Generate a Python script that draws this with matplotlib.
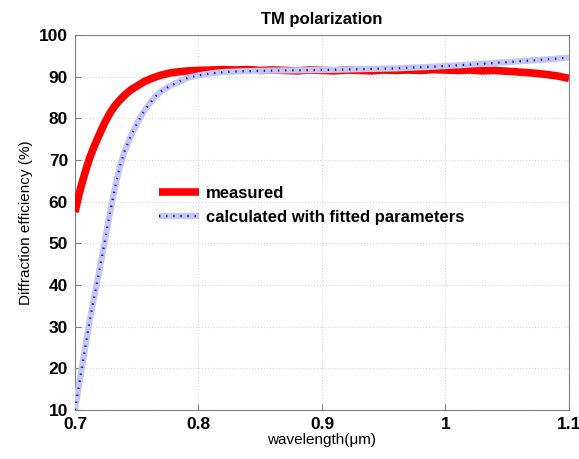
import matplotlib
matplotlib.use("Agg")
import matplotlib.pyplot as plt

plt.rcParams['font.family'] = ['Liberation Sans', 'DejaVu Sans']

# measured curve
meas_x = [0.700, 0.703, 0.706, 0.709, 0.712, 0.716, 0.720, 0.724, 0.728, 0.732,
          0.736, 0.740, 0.745, 0.750, 0.756, 0.763, 0.770, 0.777, 0.785, 0.792,
          0.800, 0.810, 0.820, 0.830, 0.840, 0.850, 0.860, 0.870, 0.880, 0.890,
          0.900, 0.910, 0.920, 0.930, 0.940, 0.950, 0.960, 0.970, 0.980, 0.990,
          1.000, 1.010, 1.020, 1.030, 1.040, 1.050, 1.060, 1.070, 1.080, 1.090, 1.100]
meas_y = [57.5, 61.5, 64.8, 67.8, 70.6, 73.6, 76.3, 78.9, 81.1, 82.9,
          84.3, 85.5, 86.8, 87.7, 88.8, 89.7, 90.4, 90.9, 91.2, 91.4,
          91.5, 91.6, 91.7, 91.6, 91.7, 91.5, 91.6, 91.5, 91.4, 91.6,
          91.5, 91.4, 91.6, 91.5, 91.4, 91.6, 91.5, 91.6, 91.5, 91.7,
          91.6, 91.5, 91.6, 91.4, 91.5, 91.3, 91.1, 90.9, 90.6, 90.2, 89.6]

# calculated with fitted parameters
calc_x = [0.700, 0.703, 0.706, 0.709, 0.712, 0.715, 0.718, 0.721, 0.724, 0.727,
          0.730, 0.733, 0.736, 0.740, 0.745, 0.750, 0.755, 0.760, 0.765, 0.770,
          0.777, 0.785, 0.792, 0.800, 0.810, 0.820, 0.835, 0.850, 0.870, 0.900,
          0.930, 0.960, 0.990, 1.020, 1.050, 1.070, 1.085, 1.100]
calc_y = [10.0, 15.5, 20.8, 26.3, 31.6, 36.3, 40.8, 45.5, 50.2, 55.3,
          59.8, 64.2, 68.0, 72.0, 75.6, 78.6, 81.3, 83.4, 85.2, 86.5,
          87.8, 88.9, 89.8, 90.3, 90.8, 91.1, 91.3, 91.4, 91.5, 91.6,
          91.8, 92.0, 92.4, 92.9, 93.5, 93.9, 94.2, 94.6]

x_ticks = [0.7, 0.8, 0.9, 1.0, 1.1]
x_tick_labels = ['0.7', '0.8', '0.9', '1', '1.1']
y_ticks = [10, 20, 30, 40, 50, 60, 70, 80, 90, 100]

fig = plt.figure(figsize=(5.79, 4.59), dpi=100)
ax = fig.add_axes([0.1295, 0.1068, 0.8532, 0.8169])

ax.plot(meas_x, meas_y, color='#ff0000', lw=5.5, solid_capstyle='butt',
        label='measured', zorder=3)
l1, = ax.plot(calc_x, calc_y, color='#c4c8ec', lw=4.5, solid_capstyle='butt', zorder=4)
l2, = ax.plot(calc_x, calc_y, color='#0000ff', lw=1.6, linestyle=(0, (0.6, 2.6)),
              zorder=5)

ax.set_xlim(0.7, 1.1)
ax.set_ylim(10, 100)
ax.set_xticks(x_ticks)
ax.set_xticklabels(x_tick_labels)
ax.set_yticks(y_ticks)
for lab in ax.get_xticklabels() + ax.get_yticklabels():
    lab.set_fontweight('bold')
    lab.set_fontsize(12.5)
ax.tick_params(direction='in', length=4, color='#808080', pad=5)
ax.grid(True, color='#d8d8d8', linestyle=':', linewidth=0.8)
for s in ax.spines.values():
    s.set_color('#808080')

ax.set_xlabel('wavelength(\u03bcm)', fontsize=11, labelpad=1)
ax.set_ylabel('Diffraction efficiency (%)', fontsize=11, labelpad=4)
ax.set_title('TM polarization', fontsize=12, fontweight='bold', pad=8)

leg = ax.legend([ax.lines[0], (l1, l2)], ['measured', 'calculated with fitted parameters'],
                loc='center left', bbox_to_anchor=(0.14, 0.545), frameon=False,
                prop={'weight': 'bold', 'size': 12}, handlelength=2.4,
                handletextpad=0.4, labelspacing=0.55)

fig.savefig('out.png', dpi=100)
